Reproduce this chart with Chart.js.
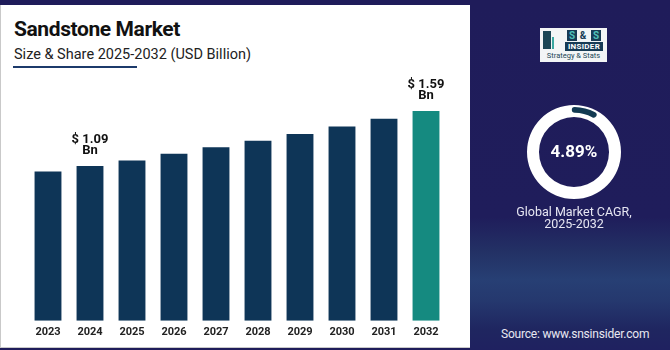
<!DOCTYPE html>
<html>
<head>
<meta charset="utf-8">
<script src="https://cdn.jsdelivr.net/npm/chart.js@4"></script>
<style>
  html, body { margin: 0; padding: 0; }
  body { width: 670px; height: 350px; position: relative; overflow: hidden; background: #1f1c5a; font-family: Roboto, "Noto Sans", sans-serif; }
  #panel { position: absolute; left: 0; top: 5px; width: 469px; height: 342px; background: #fff; border-left: 1px solid #c9c9c9; border-bottom: 1px solid #c9c9c9; }
  #side { position: absolute; left: 470px; top: 0; width: 200px; height: 350px;
    background: linear-gradient(to bottom, #1f1c5a 0%, #1f1d5b 62%, #233165 72%, #273f74 80%, #25386e 86%, #1f2660 94%, #1f2160 100%); }
  #title { position: absolute; left: 14px; top: 17px; font-size: 21px; font-weight: 700; color: #111; letter-spacing: -0.4px; }
  #subtitle { position: absolute; left: 14px; top: 46px; font-size: 14.5px; color: #222; }
  #underline { position: absolute; left: 13px; top: 66px; width: 124px; height: 2px; background: #1c3a6b; }
  #barCanvas { position: absolute; left: 0; top: 0; }
  #ringBase { position: absolute; left: 527px; top: 105px; }
  #ringArc { position: absolute; left: 529px; top: 107px; }
  #ringValue { position: absolute; left: 524px; top: 141px; width: 100px; text-align: center; font-size: 17px; font-weight: 700; color: #fff; }
  #ringCaption { position: absolute; left: 494px; top: 206px; width: 160px; text-align: center; font-size: 12.5px; line-height: 12px; color: #e6e6f2; }
  #source { position: absolute; left: 501px; top: 327px; font-size: 12px; color: #e8e8f2; letter-spacing: -0.2px; }
  #logo { position: absolute; left: 540px; top: 28px; width: 67px; height: 34px; background: #f3f5f6; }
  .tower { position: absolute; left: 3px; top: 3px; width: 8px; height: 18px; background: #1b4656; }
  .tower2 { position: absolute; left: 12px; top: 9px; width: 2px; height: 12px; background: #3aa7a0; }
  .sbox { position: absolute; top: 2px; width: 10px; height: 11px; background: #173b55; color: #4fc0b8; font-size: 10px; font-weight: 700; line-height: 11px; text-align: center; }
  .amp { position: absolute; top: 2px; left: 38px; width: 10px; height: 11px; color: #173b55; font-size: 10px; font-weight: 700; line-height: 11px; text-align: center; }
  #insider { position: absolute; left: 25px; top: 14px; width: 38px; height: 9px; background: #173b55; color: #fff; font-size: 8px; font-weight: 700; line-height: 9px; text-align: center; letter-spacing: 0.3px; }
  #strat { position: absolute; left: 0; top: 23px; width: 67px; text-align: center; color: #1b4656; font-size: 7.5px; line-height: 10px; }
</style>
</head>
<body>
<div id="panel"></div>
<div id="side"></div>
<div id="title">Sandstone Market</div>
<div id="subtitle">Size &amp; Share 2025-2032 (USD Billion)</div>
<div id="underline"></div>
<canvas id="barCanvas" width="470" height="350"></canvas>

<div id="logo">
  <div class="tower"></div><div class="tower2"></div>
  <div class="sbox" style="left:27px">S</div>
  <div class="amp">&amp;</div>
  <div class="sbox" style="left:51px">S</div>
  <div id="insider">INSIDER</div>
  <div id="strat">Strategy &amp; Stats</div>
</div>

<canvas id="ringBase" width="94" height="94"></canvas>
<canvas id="ringArc" width="90" height="90"></canvas>
<div id="ringValue">4.89%</div>
<div id="ringCaption">Global Market CAGR,<br>2025-2032</div>
<div id="source">Source: www.snsinsider.com</div>

<script>
// chart data
const years = ["2023", "2024", "2025", "2026", "2027", "2028", "2029", "2030", "2031", "2032"];
const marketSize = [1.04, 1.09, 1.14, 1.20, 1.26, 1.32, 1.38, 1.45, 1.52, 1.59];
const labelledYears = ["2024", "2032"];
const cagrText = "4.89%";
const ringShare = [9.7, 90.3];

const navy = "#0e3557";
const teal = "#158a80";
const axisMin = -0.32; // bars in the original are drawn from a shifted baseline

// bar colours: last year highlighted
const barColors = years.map((y, i) => (i === years.length - 1 ? teal : navy));

// value labels above selected bars
const valueLabels = {
  id: "valueLabels",
  afterDatasetsDraw(chart) {
    const ctx = chart.ctx;
    const meta = chart.getDatasetMeta(0);
    ctx.save();
    ctx.fillStyle = "#111";
    ctx.font = "700 13px Roboto, sans-serif";
    ctx.textAlign = "center";
    ctx.textBaseline = "middle";
    years.forEach((y, i) => {
      if (!labelledYears.includes(y)) return;
      const bar = meta.data[i];
      ctx.fillText("$ " + marketSize[i].toFixed(2), bar.x, bar.y - 26);
      ctx.fillText("Bn", bar.x, bar.y - 15);
    });
    ctx.restore();
  }
};

new Chart(document.getElementById("barCanvas"), {
  type: "bar",
  data: {
    labels: years,
    datasets: [{
      data: marketSize,
      base: axisMin,
      backgroundColor: barColors,
      barPercentage: 0.64,
      categoryPercentage: 1,
    }],
  },
  options: {
    responsive: false,
    animation: false,
    events: [],
    layout: { padding: { left: 27, right: 23, top: 77, bottom: 6 } },
    plugins: { legend: { display: false }, tooltip: { enabled: false } },
    scales: {
      x: {
        grid: { display: false, drawTicks: false },
        border: { display: false },
        ticks: { color: "#222", padding: 5, font: { family: "Roboto", size: 11, weight: "bold" } },
      },
      y: { display: false, min: axisMin, max: 1.9 },
    },
  },
  plugins: [valueLabels],
});

// CAGR ring: white base ring plus a thin dark arc on top
document.getElementById("ringValue").textContent = cagrText;
const ringOpts = {
  responsive: false,
  animation: false,
  events: [],
  plugins: { legend: { display: false }, tooltip: { enabled: false } },
};
new Chart(document.getElementById("ringBase"), {
  type: "doughnut",
  data: { datasets: [{ data: [100], backgroundColor: ["#ffffff"], borderWidth: 0 }] },
  options: { ...ringOpts, cutout: "74.5%" },
});
new Chart(document.getElementById("ringArc"), {
  type: "doughnut",
  data: {
    datasets: [{
      data: ringShare,
      backgroundColor: ["#123a52", "rgba(0,0,0,0)"],
      borderWidth: 0,
      borderRadius: [3, 0],
    }],
  },
  options: { ...ringOpts, rotation: -3, cutout: "87%" },
});
</script>
</body>
</html>
